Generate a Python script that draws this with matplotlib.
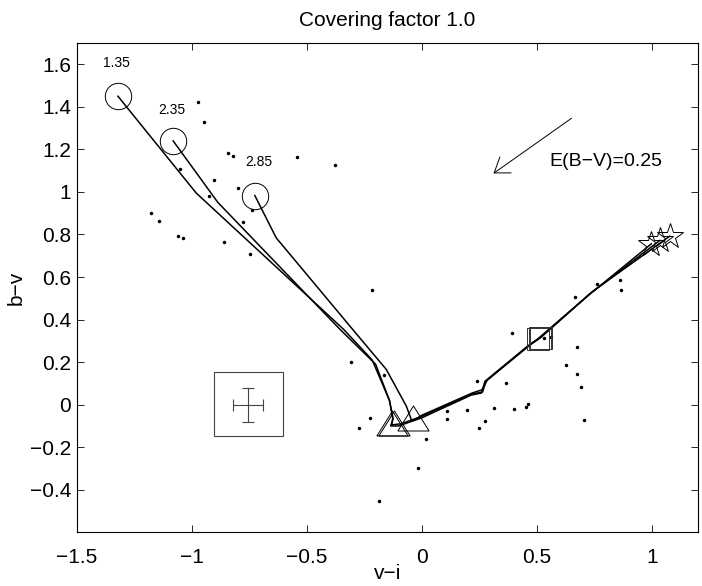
import matplotlib
matplotlib.use('agg')

import matplotlib.pyplot as plt
import numpy as np

plt.rcParams['font.family'] = ['Liberation Sans', 'DejaVu Sans']

# evolutionary tracks (v-i, b-v), one per starting value
track1_x = [-1.32, -0.98, -0.34, -0.215, -0.14, -0.125, -0.135, -0.10, 0.0, 0.215, 0.26, 0.275, 0.46, 0.50, 0.72, 0.998]
track1_y = [1.45, 0.995, 0.355, 0.21, 0.02, -0.07, -0.10, -0.10, -0.062, 0.045, 0.055, 0.11, 0.275, 0.305, 0.51, 0.756]
track2_x = [-1.08, -0.886, -0.355, -0.20, -0.14, -0.125, -0.13, -0.09, 0.0, 0.22, 0.265, 0.28, 0.47, 0.51, 0.73, 1.035]
track2_y = [1.24, 0.951, 0.354, 0.19, 0.02, -0.06, -0.095, -0.09, -0.055, 0.05, 0.06, 0.112, 0.28, 0.31, 0.52, 0.772]
track3_x = [-0.725, -0.632, -0.30, -0.154, -0.067, -0.045, -0.035, 0.0, 0.22, 0.262, 0.285, 0.48, 0.52, 0.74, 1.078]
track3_y = [0.983, 0.784, 0.354, 0.166, -0.006, -0.07, -0.075, -0.05, 0.055, 0.07, 0.115, 0.29, 0.318, 0.53, 0.792]

circle_x = [-1.32, -1.08, -0.725]
circle_y = [1.45, 1.24, 0.983]
start_labels = ['1.35', '2.35', '2.85']
label_x = [-1.325, -1.088, -0.707]
label_y = [1.606, 1.386, 1.141]

tri_x = [-0.128, -0.122, -0.036]
tri_y = [-0.088, -0.085, -0.064]
sq_x = [0.505, 0.514, 0.520]
sq_y = [0.310, 0.312, 0.315]
star_x = [0.998, 1.035, 1.078]
star_y = [0.756, 0.772, 0.792]

# observed clusters
obs_x = [-0.970, -0.948, -0.843, -0.822, -0.543, -0.377, -1.049, -0.904, -0.799, -0.926,
         -0.739, -1.175, -1.142, -0.777, -1.057, -1.039, -0.858, -0.748, -0.214, -0.309,
         -0.162, -0.226, -0.271, 0.017, -0.017, -0.184, 0.391, 0.531, 0.563, 0.677,
         0.627, 0.677, 0.693, 0.707, 0.239, 0.368, 0.665, 0.762, 0.863, 0.865,
         0.112, 0.109, 0.197, 0.313, 0.277, 0.248, 0.403, 0.455, 0.464]
obs_y = [1.425, 1.329, 1.185, 1.167, 1.162, 1.125, 1.109, 1.058, 1.017, 0.983,
         0.915, 0.903, 0.864, 0.857, 0.792, 0.784, 0.763, 0.710, 0.540, 0.200,
         0.138, -0.064, -0.111, -0.160, -0.296, -0.453, 0.335, 0.312, 0.318, 0.271,
         0.187, 0.142, 0.084, -0.072, 0.112, 0.104, 0.508, 0.569, 0.588, 0.541,
         -0.031, -0.066, -0.024, -0.016, -0.075, -0.108, -0.021, -0.010, 0.001]

# reddening vector
red_from = (0.651, 1.346)
red_to = (0.312, 1.087)
red_text = 'E(B\u2212V)=0.25'

# typical error
err_x, err_y = -0.755, 0.0
err_dx, err_dy = 0.065, 0.08
errbox = (-0.904, -0.147, 0.301, 0.300)

fig = plt.figure(figsize=(7.02, 5.86), dpi=100)
ax = fig.add_axes([0.109, 0.0916, 0.885, 0.835])

for tx, ty in [(track1_x, track1_y), (track2_x, track2_y), (track3_x, track3_y)]:
    ax.plot(tx, ty, color='black', lw=1.1)

ax.plot(obs_x, obs_y, 'k.', ms=3)

ax.plot(circle_x, circle_y, 'o', ms=19, mfc='none', mec='black', mew=0.7)
tri = [(-1, -0.8), (1, -0.8), (0, 0.8), (-1, -0.8)]
ax.plot(tri_x, tri_y, ls='none', marker=tri, ms=22.5, mfc='none', mec='black', mew=0.7)
ax.plot(sq_x, sq_y, 's', ms=16, mfc='none', mec='#333333', mew=0.7)
ax.plot(star_x, star_y, '*', ms=19, mfc='none', mec='black', mew=0.7)

for lx, ly, s in zip(label_x, label_y, start_labels):
    ax.text(lx, ly, s, fontsize=10, ha='center', va='center')

ax.annotate('', xy=red_to, xytext=red_from,
            arrowprops=dict(arrowstyle='->,head_length=0.5,head_width=0.35',
                            mutation_scale=20, lw=0.7, color='black',
                            shrinkA=0, shrinkB=0))
ax.text(0.553, 1.142, red_text, fontsize=14, ha='left', va='center')

ax.add_patch(plt.Rectangle(errbox[:2], errbox[2], errbox[3], fill=False,
                           ec='#444444', lw=0.8))
ax.errorbar(err_x, err_y, xerr=err_dx, yerr=err_dy, color='#444444',
            lw=0.8, capsize=4, capthick=0.8)

ax.set_xlim(-1.5, 1.2)
ax.set_ylim(-0.6, 1.7)
ax.set_xticks([-1.5, -1, -0.5, 0, 0.5, 1])
ax.set_xticklabels(['\u22121.5', '\u22121', '\u22120.5', '0', '0.5', '1'])
ax.set_yticks([-0.4, -0.2, 0, 0.2, 0.4, 0.6, 0.8, 1, 1.2, 1.4, 1.6])
ax.set_yticklabels(['\u22120.4', '\u22120.2', '0', '0.2', '0.4', '0.6', '0.8', '1', '1.2', '1.4', '1.6'])
ax.tick_params(direction='in', top=True, right=True, length=5, width=0.6, labelsize=15)
ax.tick_params(axis='x', pad=11)
ax.tick_params(axis='y', pad=4)
for sp in ax.spines.values():
    sp.set_linewidth(0.8)

ax.set_xlabel('v\u2212i', fontsize=15, labelpad=-2)
ax.set_ylabel('b\u2212v', fontsize=15, labelpad=3)
ax.set_title('Covering factor 1.0', fontsize=15, pad=12)

fig.savefig('out.png', dpi=100)
